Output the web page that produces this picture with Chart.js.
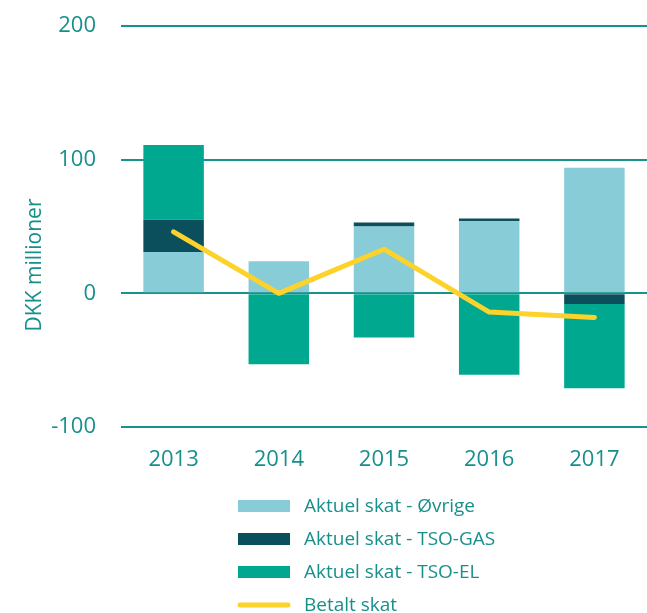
<!DOCTYPE html>
<html>
<head>
<meta charset="utf-8">
<script src="https://cdn.jsdelivr.net/npm/chart.js@4.4.1/dist/chart.umd.min.js"></script>
<style>
	html, body { margin: 0; padding: 0; background: #fff; }
	canvas { display: block; }
</style>
</head>
<body>
<canvas id="myChart" width="647" height="613"></canvas>
<script>
// data
const years = ['2013', '2014', '2015', '2016', '2017'];
const yTicks = [-100, 0, 100, 200];
const oevrige = [31, 24, 50, 54, 94];
const tsoGas = [24, 0, 3, 2, -8];
const tsoEl = [56, -53, -33, -61, -63];
const betaltSkat = [46, 0, 33, -14, -18];
const yTitle = 'DKK millioner';

const teal = '#17908c';
const fontFamily = '"Open Sans", sans-serif';

// y title sits lower than the axis centre in the original, and the legend is a
// single left-aligned column, so both are drawn here
const extrasPlugin = {
	id: 'extras',
	afterDraw(chart) {
		const ctx = chart.ctx;
		ctx.save();
		ctx.fillStyle = teal;
		ctx.font = '21px ' + fontFamily;
		ctx.textAlign = 'center';
		ctx.textBaseline = 'middle';
		ctx.translate(35, 265);
		ctx.rotate(-Math.PI / 2);
		ctx.fillText(yTitle, 0, 0);
		ctx.restore();

		ctx.save();
		ctx.font = '19px ' + fontFamily;
		ctx.textAlign = 'left';
		ctx.textBaseline = 'middle';
		chart.data.datasets.forEach((ds, i) => {
			const y = 506 + i * 33;
			if (ds.type === 'line') {
				ctx.strokeStyle = ds.borderColor;
				ctx.lineWidth = 5;
				ctx.lineCap = 'round';
				ctx.beginPath();
				ctx.moveTo(240, y);
				ctx.lineTo(288, y);
				ctx.stroke();
			} else {
				ctx.fillStyle = ds.backgroundColor;
				ctx.fillRect(238, y - 6, 52, 12);
			}
			ctx.fillStyle = teal;
			ctx.fillText(ds.label, 304, y + 1);
		});
		ctx.restore();
	},
};

const ctx = document.getElementById('myChart').getContext('2d');
new Chart(ctx, {
	type: 'bar',
	data: {
		labels: years,
		datasets: [
			{
				label: 'Aktuel skat - Øvrige',
				backgroundColor: '#88ccd7',
				data: oevrige,
				stack: 'skat',
				order: 1,
			},
			{
				label: 'Aktuel skat - TSO-GAS',
				backgroundColor: '#0c4f5c',
				data: tsoGas,
				stack: 'skat',
				order: 1,
			},
			{
				label: 'Aktuel skat - TSO-EL',
				backgroundColor: '#00a88f',
				data: tsoEl,
				stack: 'skat',
				order: 1,
			},
			{
				type: 'line',
				label: 'Betalt skat',
				borderColor: '#fdd22a',
				backgroundColor: '#fdd22a',
				borderWidth: 5,
				borderCapStyle: 'round',
				borderJoinStyle: 'round',
				pointRadius: 0,
				tension: 0,
				data: betaltSkat,
				stack: 'betalt',
				order: 0,
			},
		],
	},
	options: {
		responsive: false,
		animation: false,
		layout: {
			// plot area runs a few px past the right edge in the original
			padding: { top: 26, right: -5, bottom: 136, left: 0 },
		},
		plugins: {
			legend: { display: false },
			tooltip: { enabled: false },
		},
		datasets: {
			bar: { barPercentage: 0.575, categoryPercentage: 1 },
		},
		scales: {
			x: {
				stacked: true,
				border: { display: false },
				grid: { display: false, drawTicks: false },
				ticks: {
					color: teal,
					font: { family: fontFamily, size: 22 },
					padding: 20,
				},
				afterFit(scale) {
					scale.height = 50;
					scale.paddingRight = -5;
				},
			},
			y: {
				stacked: true,
				min: -100,
				max: 200,
				border: { display: false },
				grid: {
					color: '#17938e',
					lineWidth: 2,
					drawTicks: false,
				},
				ticks: {
					color: teal,
					font: { family: fontFamily, size: 22 },
					padding: 25,
				},
				afterBuildTicks(scale) {
					scale.ticks = yTicks.map((v) => ({ value: v }));
				},
				afterFit(scale) {
					// tick padding is meant horizontally only
					scale.width = 121;
					scale.paddingTop = 13;
					scale.paddingBottom = 13;
				},
			},
		},
	},
	plugins: [extrasPlugin],
});
</script>
</body>
</html>
